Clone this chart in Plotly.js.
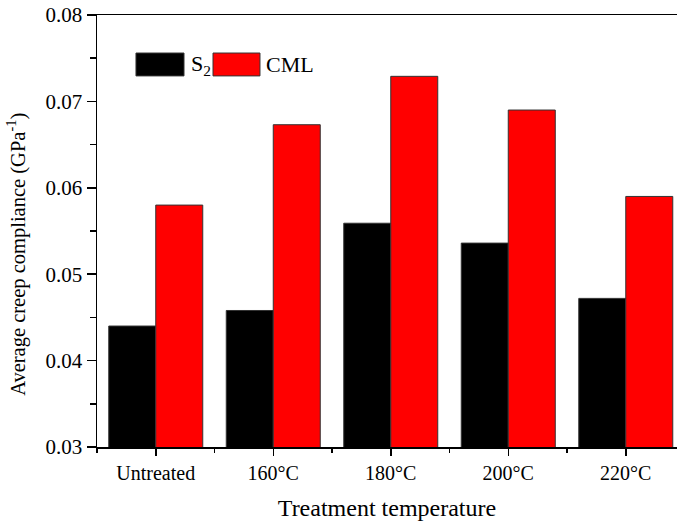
<!DOCTYPE html>
<html>
<head>
<meta charset="utf-8">
<script src="https://cdn.plot.ly/plotly-3.0.1.min.js"></script>
<style>html,body{margin:0;padding:0;background:#fff}#chart{width:677px;height:522px}</style>
</head>
<body>
<div id="chart"></div>
<script>
const categories = ["Untreated", "160°C", "180°C", "200°C", "220°C"];
const catPositions = [0, 1, 2, 3, 4];
const s2Values = [0.0440, 0.0458, 0.0559, 0.0536, 0.0472];
const cmlValues = [0.0580, 0.0673, 0.0729, 0.0690, 0.0590];
const seriesNames = ["S<sub>2</sub>", "CML"];
const yTitle = "Average creep compliance (GPa<sup>-1</sup>)";
const xTitle = "Treatment temperature";

const FONT = "Liberation Serif, Times New Roman, serif";
const xr = [-0.5, 4.436];
const yr = [0.03, 0.08];

const traces = [
  {type: "bar", x: catPositions, y: s2Values, name: seriesNames[0],
   marker: {color: "#000000", line: {color: "#333333", width: 1}}, showlegend: false},
  {type: "bar", x: catPositions, y: cmlValues, name: seriesNames[1],
   marker: {color: "#ff0000", line: {color: "#333333", width: 1}}, showlegend: false}
];

const layout = {
  width: 677, height: 522,
  margin: {l: 97, r: 0, t: 15, b: 75},
  paper_bgcolor: "#fff", plot_bgcolor: "#fff",
  barmode: "group", bargap: 0.2, bargroupgap: 0,
  font: {family: FONT, color: "#000", size: 20},
  xaxis: {
    range: xr, tickvals: catPositions, ticktext: categories,
    showline: true, linecolor: "#000", linewidth: 1.5, mirror: true,
    ticks: "outside", ticklen: 7, tickwidth: 1.5, tickcolor: "#000",
    minor: {dtick: 0.5, tick0: 0.5, ticks: "outside", ticklen: 4, tickwidth: 1.5, tickcolor: "#000"},
    showgrid: false, zeroline: false,
    tickfont: {family: FONT, size: 20, color: "#000"},
    title: {text: xTitle, font: {family: FONT, size: 24, color: "#000"}, standoff: 16}
  },
  yaxis: {
    range: yr, dtick: 0.01, tick0: 0.03, tickformat: ".2f",
    showline: true, linecolor: "#000", linewidth: 1.5, mirror: true,
    ticks: "outside", ticklen: 9, tickwidth: 1.5, tickcolor: "#000",
    minor: {dtick: 0.005, ticks: "outside", ticklen: 6, tickwidth: 1.5, tickcolor: "#000"},
    showgrid: false, zeroline: false,
    tickfont: {family: FONT, size: 21, color: "#000"}
  },
  xaxis2: {
    overlaying: "x", side: "top", range: xr, tickvals: catPositions,
    showticklabels: false, ticks: "inside", ticklen: 9, tickwidth: 1.5, tickcolor: "#000",
    minor: {dtick: 0.5, tick0: 0.5, ticks: "inside", ticklen: 5, tickwidth: 1.5, tickcolor: "#000"},
    showgrid: false, zeroline: false, showline: false
  },
  yaxis2: {
    overlaying: "y", side: "right", range: yr, dtick: 0.01, tick0: 0.03,
    showticklabels: false, ticks: "inside", ticklen: 9, tickwidth: 1.5, tickcolor: "#000",
    minor: {dtick: 0.005, ticks: "inside", ticklen: 5, tickwidth: 1.5, tickcolor: "#000"},
    showgrid: false, zeroline: false, showline: false
  },
  shapes: [
    {type: "rect", xref: "paper", yref: "paper", x0: 0.0672, x1: 0.150, y0: 0.859, y1: 0.912,
     fillcolor: "#000", line: {color: "#333", width: 1}},
    {type: "rect", xref: "paper", yref: "paper", x0: 0.200, x1: 0.281, y0: 0.859, y1: 0.912,
     fillcolor: "#ff0000", line: {color: "#333", width: 1}}
  ],
  annotations: [
    {xref: "paper", yref: "paper", x: 0.158, y: 0.885, xanchor: "left", yanchor: "middle",
     text: seriesNames[0], showarrow: false, font: {family: FONT, size: 22, color: "#000"}},
    {xref: "paper", yref: "paper", x: 0.288, y: 0.885, xanchor: "left", yanchor: "middle",
     text: seriesNames[1], showarrow: false, font: {family: FONT, size: 22, color: "#000"}},
    {xref: "paper", yref: "paper", x: -0.138, y: 0.447, xanchor: "center", yanchor: "middle",
     textangle: -90, text: yTitle, showarrow: false, font: {family: FONT, size: 20.5, color: "#000"}}
  ]
};

Plotly.newPlot("chart", traces, layout, {displayModeBar: false, staticPlot: true});
</script>
</body>
</html>
